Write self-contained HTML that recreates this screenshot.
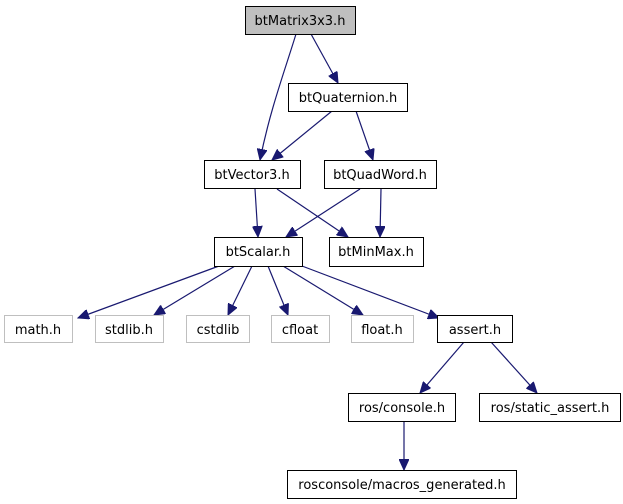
<!DOCTYPE html>
<html><head><meta charset="utf-8"><style>
html,body{margin:0;padding:0;background:#fff}
svg{display:block}
text{font-family:"DejaVu Sans","Liberation Sans",sans-serif;font-size:13px;text-anchor:middle}
</style></head><body>
<svg width="623" height="504" viewBox="0 0 623 504" xmlns="http://www.w3.org/2000/svg">
<defs>
<marker id="a" markerWidth="12" markerHeight="10" refX="11" refY="5" orient="auto" markerUnits="userSpaceOnUse">
<path d="M0,0 L11,5 L0,10 Z" fill="#191970" stroke="#191970"/>
</marker>
</defs>
<g stroke="#191970" stroke-width="1.2" fill="none" marker-end="url(#a)">
<path d="M296,34 C285,70 270,110 260,160"/>
<path d="M311,34 L338,83"/>
<path d="M332,111 L272,160"/>
<path d="M356,111 L373,160"/>
<path d="M255,189 L258,237"/>
<path d="M277,189 L348,237"/>
<path d="M360,189 L286,237"/>
<path d="M381,189 L380,237"/>
<path d="M219,266 L78,318"/>
<path d="M235,266 L154,315"/>
<path d="M252,266 L228,315"/>
<path d="M268,266 L288,315"/>
<path d="M283,266 L363,315"/>
<path d="M302,266 L439,318"/>
<path d="M464,342 L420,393"/>
<path d="M491,342 L537,393"/>
<path d="M404,421 L404,470"/>
</g>
<g stroke-width="1">
<rect x="245.5" y="6.5" width="110" height="28" fill="#bfbfbf" stroke="#000"/>
<rect x="288.5" y="83.5" width="119" height="28" fill="#fff" stroke="#000"/>
<rect x="204.5" y="160.5" width="96" height="28" fill="#fff" stroke="#000"/>
<rect x="324.5" y="160.5" width="112" height="28" fill="#fff" stroke="#000"/>
<rect x="214.5" y="237.5" width="88" height="29" fill="#fff" stroke="#000"/>
<rect x="329.5" y="237.5" width="94" height="29" fill="#fff" stroke="#000"/>
<rect x="4.5" y="315.5" width="68" height="27" fill="#fff" stroke="#bfbfbf"/>
<rect x="95.5" y="315.5" width="68" height="27" fill="#fff" stroke="#bfbfbf"/>
<rect x="186.5" y="315.5" width="63" height="27" fill="#fff" stroke="#bfbfbf"/>
<rect x="271.5" y="315.5" width="58" height="27" fill="#fff" stroke="#bfbfbf"/>
<rect x="351.5" y="315.5" width="62" height="27" fill="#fff" stroke="#bfbfbf"/>
<rect x="437.5" y="315.5" width="75" height="27" fill="#fff" stroke="#000"/>
<rect x="348.5" y="393.5" width="107" height="28" fill="#fff" stroke="#000"/>
<rect x="479.5" y="393.5" width="141" height="28" fill="#fff" stroke="#000"/>
<rect x="287.5" y="470.5" width="229" height="28" fill="#fff" stroke="#000"/>
</g>
<g fill="#000">
<text x="300" y="25">btMatrix3x3.h</text>
<text x="348" y="102">btQuaternion.h</text>
<text x="252" y="179">btVector3.h</text>
<text x="380" y="179">btQuadWord.h</text>
<text x="258" y="256">btScalar.h</text>
<text x="376" y="256">btMinMax.h</text>
<text x="38" y="334">math.h</text>
<text x="129" y="334">stdlib.h</text>
<text x="218" y="334">cstdlib</text>
<text x="300" y="334">cfloat</text>
<text x="382" y="334">float.h</text>
<text x="475" y="334">assert.h</text>
<text x="402" y="412">ros/console.h</text>
<text x="550" y="412">ros/static_assert.h</text>
<text x="402" y="489">rosconsole/macros_generated.h</text>
</g>
</svg>
</body></html>
